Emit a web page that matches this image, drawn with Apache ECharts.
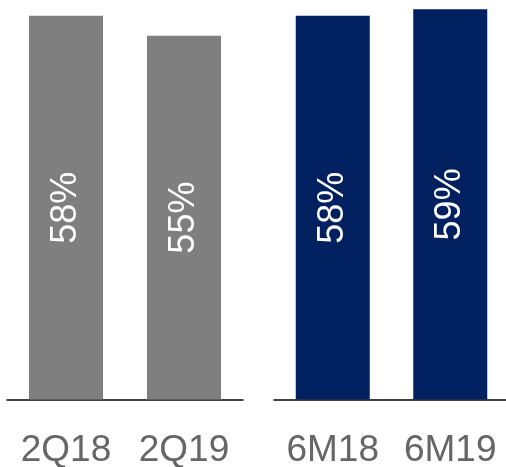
<!DOCTYPE html>
<html>
<head>
<meta charset="utf-8">
<script src="https://cdn.jsdelivr.net/npm/echarts@6/dist/echarts.min.js"></script>
<style>
  html, body { margin: 0; padding: 0; background: #fff; }
  #chart { width: 506px; height: 467px; }
</style>
</head>
<body>
<div id="chart"></div>
<script>
// Quarter comparison (grey) and half-year comparison (navy)
const quarterCategories = ['2Q18', '2Q19'];
const quarterValues = [58, 55];
const halfYearCategories = ['6M18', '6M19'];
const halfYearValues = [58, 59];

const FONT = 'Liberation Sans';
const Y_MAX = 60.4;

const chart = echarts.init(document.getElementById('chart'), null, { renderer: 'canvas' });

function xAxisFor(gridIndex, data) {
  return {
    type: 'category',
    gridIndex: gridIndex,
    data: data,
    axisLine: { show: true, lineStyle: { color: '#000', width: 1.5 } },
    axisTick: { show: false },
    axisLabel: {
      interval: 0,
      hideOverlap: false,
      color: '#666',
      fontSize: 37,
      fontFamily: FONT,
      margin: 33
    }
  };
}

function yAxisFor(gridIndex) {
  return {
    type: 'value',
    gridIndex: gridIndex,
    min: 0,
    max: Y_MAX,
    show: false,
    splitLine: { show: false }
  };
}

function barSeries(axisIndex, values, color) {
  return {
    type: 'bar',
    xAxisIndex: axisIndex,
    yAxisIndex: axisIndex,
    data: values,
    barWidth: 74,
    itemStyle: { color: color },
    label: {
      show: true,
      position: 'inside',
      rotate: 90,
      formatter: '{c}%',
      color: '#fff',
      fontSize: 36,
      fontFamily: FONT
    },
    silent: true
  };
}

chart.setOption({
  animation: false,
  grid: [
    { left: 7, width: 236, top: 0, bottom: 67.5, containLabel: false, outerBoundsMode: 'none' },
    { left: 274, width: 235, top: 0, bottom: 67.5, containLabel: false, outerBoundsMode: 'none' }
  ],
  xAxis: [xAxisFor(0, quarterCategories), xAxisFor(1, halfYearCategories)],
  yAxis: [yAxisFor(0), yAxisFor(1)],
  series: [
    barSeries(0, quarterValues, '#7f7f7f'),
    barSeries(1, halfYearValues, '#002060')
  ]
});
</script>
</body>
</html>
